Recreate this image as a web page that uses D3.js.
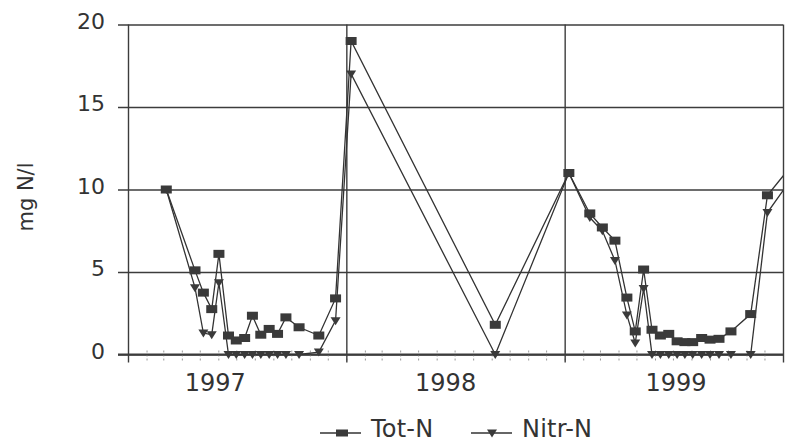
<!DOCTYPE html>
<html lang="en">
<head>
  <meta charset="UTF-8">
  <script src="https://d3js.org/d3.v7.min.js"></script>
  <title>Tot-N / Nitr-N</title>
  <style>
    body { margin: 0; background: #fff; }
    text { font-family: "DejaVu Sans", sans-serif; fill: #333; }
  </style>
</head>
<body>
  <script>
    // sampling dates (shared by both series)
    const sampleDates = [
      "1997-03-06", "1997-04-23", "1997-05-07", "1997-05-21", "1997-06-02", "1997-06-18",
      "1997-07-01", "1997-07-15", "1997-07-28", "1997-08-11", "1997-08-25", "1997-09-08",
      "1997-09-22", "1997-10-14", "1997-11-16", "1997-12-14",
      "1998-01-09", "1998-09-07",
      "1999-01-08", "1999-02-12", "1999-03-05", "1999-03-26", "1999-04-15", "1999-04-29",
      "1999-05-13", "1999-05-27", "1999-06-10", "1999-06-24", "1999-07-08", "1999-07-21",
      "1999-08-03", "1999-08-18", "1999-09-01", "1999-09-16", "1999-10-06", "1999-11-08",
      "1999-12-06", "2000-01-12"
    ]

    const totN = [
      10.0, 5.1, 3.75, 2.75, 6.1, 1.15, 0.85, 1.0, 2.35, 1.2, 1.55, 1.25,
      2.25, 1.65, 1.15, 3.4,
      19.0, 1.8,
      11.0, 8.55, 7.7, 6.9, 3.45, 1.4, 5.15, 1.5, 1.15, 1.25, 0.8, 0.75,
      0.75, 1.0, 0.9, 0.95, 1.4, 2.45, 9.65, 11.3
    ]

    const nitrN = [
      10.0, 4.05, 1.3, 1.2, 4.35, 0, 0, 0, 0, 0, 0, 0,
      0, 0, 0.15, 2.05,
      17.0, 0,
      11.0, 8.3, 7.5, 5.7, 2.4, 0.7, 4.0, 0, 0, 0, 0, 0,
      0, 0, 0, 0, 0, 0, 8.6, 10.5
    ]

    const yTicks = [0, 5, 10, 15, 20]
    const yearLabels = ["1997", "1998", "1999"]
    // the labels sit a little off the year centres in the original
    const yearLabelDates = ["1997-05-27", "1998-06-16", "1999-07-06"]
    const yearBounds = ["1997-01-01", "1998-01-01", "1999-01-01", "2000-01-01"]
    const seriesNames = ["Tot-N", "Nitr-N"]
    const yLabel = "mg N/l"

    window.addEventListener("DOMContentLoaded", () => {
      const parse = d3.utcParse("%Y-%m-%d")

      let dimension = {
        width: 785,
        height: 442,
        left: 128,
        right: 783,
        top: 24.5,
        bottom: 354.5
      }

      const ink = "#333"
      const grid = "#3c3c3c"

      const svg = d3.select("body")
          .append("svg")
          .attr("width", dimension.width)
          .attr("height", dimension.height)

      const xScale = d3.scaleUtc()
          .domain([parse(yearBounds[0]), parse(yearBounds[3])])
          .range([dimension.left, dimension.right])

      const yScale = d3.scaleLinear()
          .domain([0, 20])
          .range([dimension.bottom, dimension.top])

      // horizontal grid + y ticks
      const yAxis = svg.append("g")
          .call(d3.axisLeft(yScale)
            .tickValues(yTicks)
            .tickSize(dimension.right - dimension.left + 10)
            .tickFormat(d3.format("d")))
          .style("transform", `translate(${dimension.right}px, 0px)`)

      yAxis.select(".domain").remove()
      yAxis.selectAll(".tick line")
          .attr("stroke", grid)
          .attr("stroke-width", 1.4)
      yAxis.selectAll(".tick text")
          .attr("font-size", 22)
          .attr("dy", "0.16em")
          .attr("x", dimension.left - dimension.right - 23)
          .style("fill", ink)

      // monthly minor ticks on the x axis
      const months = d3.utcMonth.range(parse(yearBounds[0]), parse(yearBounds[3]))
      svg.append("g")
          .call(d3.axisBottom(xScale).tickValues(months).tickSize(12).tickFormat(""))
          .style("transform", `translate(0px, ${dimension.bottom - 4}px)`)
          .call(g => g.select(".domain").remove())
          .call(g => g.selectAll(".tick line")
            .attr("stroke", "#9a9a9a")
            .attr("stroke-dasharray", "2,2"))

      // year gridlines (also the left axis and right border)
      const xAxis = svg.append("g")
          .call(d3.axisBottom(xScale)
            .tickValues(yearBounds.map(parse))
            .tickSize(dimension.bottom - dimension.top + 8)
            .tickFormat(""))
          .style("transform", `translate(0px, ${dimension.top}px)`)

      xAxis.select(".domain").remove()
      xAxis.selectAll(".tick line")
          .attr("stroke", grid)
          .attr("stroke-width", 1.4)

      // x axis base line
      svg.append("line")
          .attr("x1", dimension.left - 10)
          .attr("x2", dimension.right)
          .attr("y1", yScale(0))
          .attr("y2", yScale(0))
          .attr("stroke", grid)
          .attr("stroke-width", 2)

      // year labels
      svg.append("g")
          .selectAll("text")
          .data(yearLabels)
          .join("text")
          .attr("x", (d, i) => xScale(parse(yearLabelDates[i])))
          .attr("y", 391)
          .attr("text-anchor", "middle")
          .attr("font-size", 24)
          .text(d => d)

      // y label
      svg.append("text")
          .attr("transform", "translate(33, 197) rotate(-90)")
          .attr("text-anchor", "middle")
          .attr("font-size", 21)
          .text(yLabel)

      // data
      const dates = sampleDates.map(parse)
      const totData = dates.map((d, i) => ({ date: d, value: totN[i] }))
      const nitrData = dates.map((d, i) => ({ date: d, value: nitrN[i] }))

      svg.append("clipPath")
          .attr("id", "plot-clip")
          .append("rect")
          .attr("x", dimension.left)
          .attr("y", 0)
          .attr("width", dimension.right - dimension.left)
          .attr("height", dimension.bottom + 10)

      const lineGenerator = d3.line()
          .x(d => xScale(d.date))
          .y(d => yScale(d.value))

      const plot = svg.append("g").attr("clip-path", "url(#plot-clip)")

      plot.append("path")
          .attr("d", lineGenerator(nitrData))
          .attr("fill", "none")
          .attr("stroke", ink)
          .attr("stroke-width", 1.3)

      plot.append("path")
          .attr("d", lineGenerator(totData))
          .attr("fill", "none")
          .attr("stroke", ink)
          .attr("stroke-width", 1.3)

      const triangle = "M-5,-3.5 L5,-3.5 L0,4.5 Z"

      plot.append("g")
          .selectAll("path")
          .data(nitrData)
          .join("path")
          .attr("d", triangle)
          .attr("transform", d => `translate(${xScale(d.date)}, ${yScale(d.value)})`)
          .attr("fill", "#3a3a3a")

      plot.append("g")
          .selectAll("rect")
          .data(totData)
          .join("rect")
          .attr("x", d => xScale(d.date) - 5.5)
          .attr("y", d => yScale(d.value) - 4)
          .attr("width", 11)
          .attr("height", 8)
          .attr("fill", "#3a3a3a")

      // legend
      const legend = svg.append("g")
      const legendItems = [
        { name: seriesNames[0], x: 320, marker: "square" },
        { name: seriesNames[1], x: 471, marker: "triangle" }
      ]

      legendItems.forEach(item => {
        const g = legend.append("g").style("transform", `translate(${item.x}px, 433px)`)
        g.append("line")
            .attr("x1", 0).attr("x2", 41)
            .attr("stroke", ink).attr("stroke-width", 1.3)
        if (item.marker === "square") {
          g.append("rect")
              .attr("x", 16).attr("y", -3.5)
              .attr("width", 12).attr("height", 7)
              .attr("fill", "#3a3a3a")
        } else {
          g.append("path")
              .attr("d", triangle)
              .attr("transform", "translate(21, 0)")
              .attr("fill", "#3a3a3a")
        }
        g.append("text")
            .attr("x", 51)
            .attr("y", 4)
            .attr("font-size", 24)
            .attr("letter-spacing", 0.2)
            .text(item.name)
      })
    })
  </script>
</body>
</html>
